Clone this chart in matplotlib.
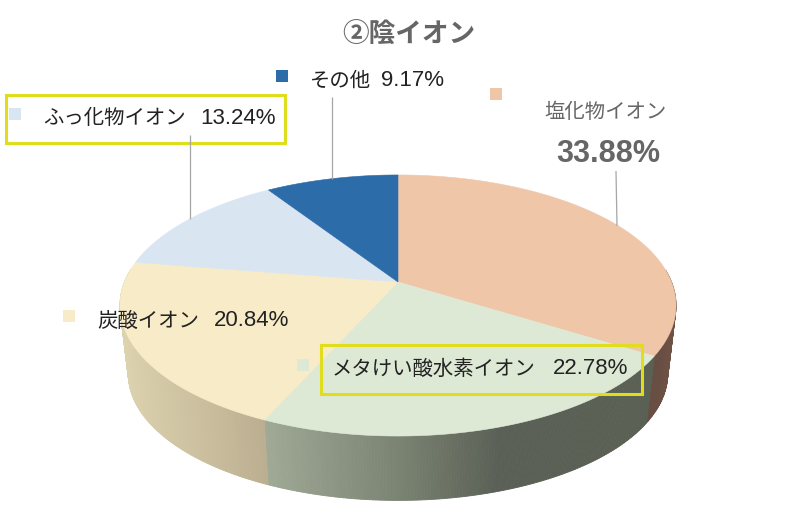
import numpy as np
import matplotlib
matplotlib.use("Agg")
import matplotlib.pyplot as plt
from matplotlib.collections import PolyCollection
from matplotlib.patches import Polygon, Rectangle

plt.rcParams['font.family'] = ['Noto Sans CJK JP', 'DejaVu Sans']

labels = ["塩化物イオン", "メタけい酸水素イオン", "炭酸イオン", "ふっ化物イオン", "その他"]
values = [33.88, 22.78, 20.84, 13.24, 9.17]
top_colors = ["#F0C6A9", "#DDE9D5", "#F8EBC8", "#DAE5F2", "#2B6CA9"]
title = "②陰イオン"

# side wall colours: (screen x, rgb) stops for each slice
side_stops = [
    ([640, 680], [(96, 72, 62), (112, 84, 70)]),
    ([262, 400, 500, 660], [(160, 170, 150), (122, 130, 114), (90, 96, 85), (90, 96, 84)]),
    ([120, 262], [(220, 210, 174), (188, 175, 145)]),
    ([120, 270], [(170, 175, 185), (170, 175, 185)]),
    ([270, 400], [(30, 75, 120), (30, 75, 120)]),
]

# perspective pie: apex on screen, front of the disc is nearer the viewer
cx, cy = 398, 282
k = 0.18
a = 126.3
b = 273.5
side_scale = 0.97
side_drop = 69


def project(t):
    # t is the clockwise angle from 12 o'clock, in radians
    px = np.sin(t)
    py = np.cos(t)
    w = 1 + k * py
    return cx + b * px / w, cy - a * py / w


def lower(x, y):
    return cx + side_scale * (x - cx), cy + side_drop + side_scale * (y - cy)


fig = plt.figure(figsize=(7.91, 5.21), dpi=100)
ax = fig.add_axes([0, 0, 1, 1])
ax.set_xlim(0, 791)
ax.set_ylim(521, 0)
ax.axis('off')

fracs = np.array(values) / sum(values)
edges = np.concatenate([[0], np.cumsum(fracs)]) * 2 * np.pi

# side wall first, only the front part can be seen
for i in range(len(values)):
    ts = np.linspace(edges[i], edges[i + 1], 160)
    xs, ys = project(ts)
    lx, ly = lower(xs, ys)
    polys = []
    cols = []
    stop_x, stop_c = side_stops[i]
    stop_c = np.array(stop_c) / 255
    for j in range(len(ts) - 1):
        if np.cos(ts[j]) > 0.1:
            continue
        polys.append([(xs[j], ys[j]), (xs[j + 1], ys[j + 1]), (lx[j + 1], ly[j + 1]), (lx[j], ly[j])])
        mid = (xs[j] + xs[j + 1]) / 2
        cols.append([np.interp(mid, stop_x, stop_c[:, c]) for c in range(3)])
    if polys:
        ax.add_collection(PolyCollection(polys, facecolors=cols, edgecolors=cols, linewidths=0.6))

# top face
for i in range(len(values)):
    ts = np.linspace(edges[i], edges[i + 1], 160)
    xs, ys = project(ts)
    pts = np.column_stack([np.r_[cx, xs], np.r_[cy, ys]])
    ax.add_patch(Polygon(pts, closed=True, facecolor=top_colors[i], edgecolor=top_colors[i], linewidth=0.4))

# leader lines
for x0, y0, x1, y1 in [(190, 135, 190, 219), (332, 97, 332, 179), (616, 171, 617, 226)]:
    ax.plot([x0, x1], [y0, y1], color="#A6A6A6", linewidth=0.9, solid_capstyle='butt')

# highlighted labels
for x0, y0, x1, y1 in [(6, 95, 285, 143), (321, 345, 642, 394)]:
    ax.add_patch(Rectangle((x0, y0), x1 - x0, y1 - y0, fill=False, edgecolor="#E0DC1E", linewidth=2.2))

# colour keys
key_pos = [(490, 88), (297, 359), (63, 310), (9, 108), (276, 70)]
for (x, y), col in zip(key_pos, top_colors):
    ax.add_patch(Rectangle((x, y), 12, 12, facecolor=col, edgecolor='none'))

ink = "#222222"
grey = "#666666"
fs = 14.7
num_fs = 16
ax.text(408.5, 34, title, ha='center', va='center', fontsize=19.2, fontweight='bold', color=grey)
ax.text(606, 113, labels[0], ha='center', va='center', fontsize=fs, color=grey)
ax.text(608, 154, f"{values[0]:.2f}%", ha='center', va='center', fontsize=22, fontweight='bold',
        color=grey, family='Liberation Sans')

# label text and its percentage are placed apart, the digits use a latin face
rows = [
    (1, 332, 628, 369),
    (2, 97, 289, 321),
    (3, 43, 276, 118),
    (4, 310, 444, 81),
]
for i, x_name, x_end, y in rows:
    ax.text(x_name, y, labels[i], ha='left', va='center', fontsize=fs, color=ink)
    ax.text(x_end, y, f"{values[i]:.2f}%", ha='right', va='center', fontsize=num_fs, color=ink,
            family='Liberation Sans')

fig.savefig("out.png", dpi=100)
